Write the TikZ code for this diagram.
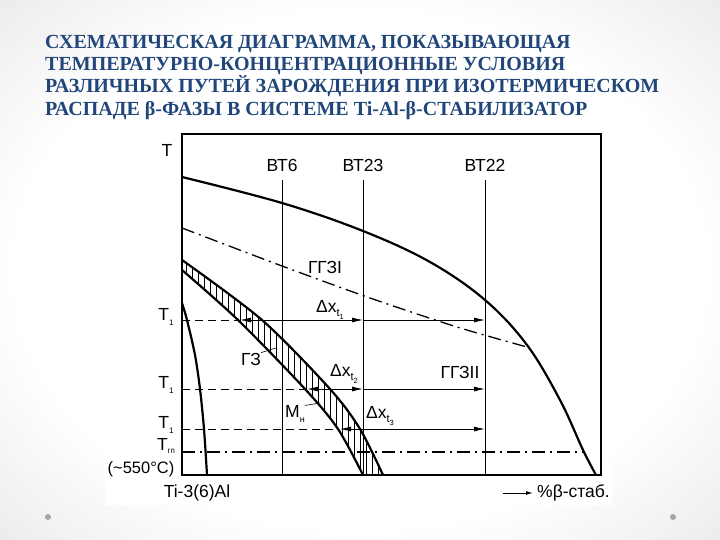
\documentclass[tikz,border=0pt]{standalone}
\usepackage{fontspec}
\setmainfont{Liberation Serif}
\newfontfamily\diagfont{Liberation Sans}
\usetikzlibrary{arrows.meta}
\definecolor{titleblue}{RGB}{33,70,122}
\pgfdeclareradialshading{slidebg}{\pgfpoint{0bp}{0bp}}{color(0bp)=(white); color(24bp)=(white); color(50bp)=(black!17); color(70bp)=(black!26)}

% subscripts as printed in the figure
\newcommand{\tsub}[1]{T\raisebox{-0.6ex}{\fontsize{8}{8}\selectfont #1}}
\newcommand{\dxsub}[1]{Δx\raisebox{-0.45ex}{\fontsize{11}{11}\selectfont t\raisebox{-0.4ex}{\fontsize{7.5}{7.5}\selectfont #1}}}

\begin{document}
\begin{tikzpicture}[x=1pt,y=-1pt,
    lbl/.style={font=\diagfont\fontsize{17.5}{17.5}\selectfont, inner sep=0pt},
    dxlbl/.style={font=\diagfont\fontsize{17.5}{17.5}\selectfont, inner sep=0pt},
    curve/.style={line width=2.2pt},
    guide/.style={line width=0.9pt},
    tdash/.style={line width=1pt, dash pattern=on 8pt off 5pt},
    dashdot/.style={line width=1.5pt, dash pattern=on 13pt off 5pt on 2pt off 5pt},
    arr/.style={-{Latex[length=11pt,width=5pt]}, line width=0.9pt},
    darr/.style={{Latex[length=11pt,width=5pt]}-{Latex[length=11pt,width=5pt]}, line width=0.9pt}]

    \useasboundingbox (0,0) rectangle (720,540);
    \shade[shading=slidebg] (0,0) rectangle (720,540);
    \fill[white] (105,133) rectangle (612,505);
    \fill[black!35] (48,517) circle (3);
    \fill[black!35] (673,517) circle (3);

    \node[anchor=north west, align=left, inner sep=0pt, text=titleblue,
          font=\bfseries\fontsize{20}{22.2}\selectfont] (title) at (45,35)
        {СХЕМАТИЧЕСКАЯ ДИАГРАММА, ПОКАЗЫВАЮЩАЯ\\
         ТЕМПЕРАТУРНО-КОНЦЕНТРАЦИОННЫЕ УСЛОВИЯ\\
         РАЗЛИЧНЫХ ПУТЕЙ ЗАРОЖДЕНИЯ ПРИ ИЗОТЕРМИЧЕСКОМ\\
         РАСПАДЕ β-ФАЗЫ В СИСТЕМЕ Ti-Al-β-СТАБИЛИЗАТОР};

    % frame and alloy lines
    \draw[line width=1.4pt] (182,134) rectangle (601,475);
    \foreach \x/\n/\name in {282/ВТ6/vt6, 363/ВТ23/vt23, 485/ВТ22/vt22} {
        \node[lbl] (\name) at (\x,165) {\n};
        \draw[guide] (\x,180) -- (\x,475);
    }

    % beta transus
    \draw[curve] plot[smooth, tension=0.6] coordinates {(182,177) (282,203) (363,231) (430,262) (485,300) (527,345) (560,400) (583,450) (596,475)};
    % GGZ I boundary
    \draw[dashdot, line width=1.3pt] plot[smooth] coordinates {(182,228) (282,266) (370,298) (457,327) (527,347)};

    % hatched band
    \begin{scope}
        \clip plot[smooth] coordinates {(182,270) (238,320) (305,389) (338,429) (363,475)}
            -- plot[smooth] coordinates {(383,475) (360,429) (330,389) (262,320) (182,260)} -- cycle;
        \foreach \x in {180,186,...,390}
            \draw[line width=0.7pt] (\x,250) -- (\x,480);
    \end{scope}
    \draw[curve] plot[smooth] coordinates {(182,270) (238,320) (305,389) (338,429) (363,475)};
    \draw[curve] plot[smooth] coordinates {(182,260) (262,320) (330,389) (360,429) (383,475)};

    % Ti-3(6)Al
    \draw[curve] plot[smooth] coordinates {(182,303) (187,320) (195,355) (200,389) (204,429) (207,475)};

    % isotherms
    \draw[tdash] (182,320) -- (238,320);
    \draw[darr] (240,320) -- (363,320);
    \draw[arr] (363,320) -- (485,320);
    \draw[tdash] (182,389) -- (305,389);
    \draw[darr] (307,389) -- (363,389);
    \draw[arr] (363,389) -- (485,389);
    \draw[tdash] (182,429) -- (338,429);
    \draw[darr] (340,429) -- (485,429);
    \draw[dashdot] (182,452) -- (584,452);

    % labels
    \node[lbl] (tax) at (167,150) {T};
    \node[lbl] (tone) at (166,317) {\tsub{1}};
    \node[lbl] (ttwo) at (166,385) {\tsub{1}};
    \node[lbl] (tthree) at (166,425) {\tsub{1}};
    \node[lbl] (tgp) at (166,446) {T\raisebox{-0.4ex}{\fontsize{8}{8}\selectfont гп}};
    \node[lbl, font=\diagfont\fontsize{16.5}{16.5}\selectfont] (temp) at (141,469) {(\textasciitilde550°C)};
    \node[lbl] (ggz1) at (325,267) {ГГЗI};
    \node[lbl] (ggz2) at (460,372) {ГГЗII};
    \node[lbl] (gz) at (251,359) {ГЗ};
    \draw[line width=0.6pt] (gz.north east) -- (276,348);
    \node[lbl] (mn) at (295,414) {М\raisebox{-0.5ex}{\fontsize{9}{9}\selectfont н}};
    \draw[line width=0.6pt] (mn.north east) -- (320,403);
    \node[dxlbl] (dx1) at (330,310) {\dxsub{1}};
    \node[dxlbl] (dx2) at (344,374) {\dxsub{2}};
    \node[dxlbl] (dx3) at (380,416) {\dxsub{3}};
    \node[lbl] (alloy) at (197,493) {Ti-3(6)Al};
    \node[lbl, anchor=west] (xlab) at (537,493) {\%β-стаб.};
    \draw[-{Latex[length=7pt,width=4pt]}, line width=1pt] ([xshift=-34pt]xlab.west) -- ([xshift=-4pt]xlab.west);
\end{tikzpicture}
\end{document}
